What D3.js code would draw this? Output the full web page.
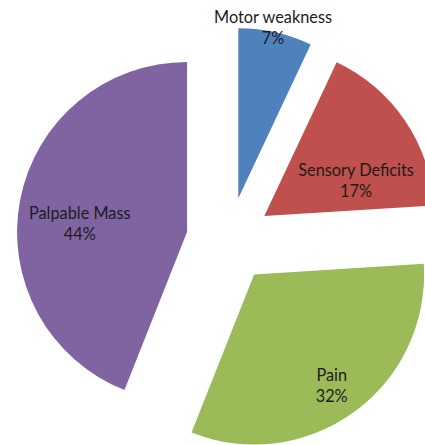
<!DOCTYPE html>
<html>
<head>
<meta charset="utf-8">
<script src="https://cdn.jsdelivr.net/npm/d3@7"></script>
<style>
  html, body { margin: 0; padding: 0; background: #ffffff; }
  svg { display: block; }
</style>
</head>
<body>
<svg id="chart" width="425" height="445"></svg>
<script>
// ---- data ----
const categories = ["Motor weakness", "Sensory Deficits", "Pain", "Palpable Mass"];
const values = [7, 17, 32, 44];
const percentLabels = ["7%", "17%", "32%", "44%"];
const colors = ["#4F81BD", "#C0504D", "#9BBB59", "#8064A2"];

// ---- layout ----
const W = 425, H = 445;
const cx = 229, cy = 240;       // pie centre before explosion
const radius = 170;
const explode = 42.7;           // explosion distance along bisector
// label position relative to each exploded slice apex: [angle deg, distance]
const labelPos = [[11.9, 168.5], [72.3, 96.3], [146.5, 140.6], [271.1, 107.3]];

const svg = d3.select("#chart");
const pie = d3.pie().sort(null).value(d => d)(values);
const arc = d3.arc().innerRadius(0).outerRadius(radius);

const g = svg.append("g").attr("transform", `translate(${cx},${cy})`);

const slices = g.selectAll("g.slice").data(pie).enter().append("g")
  .attr("class", "slice")
  .attr("transform", d => {
    const mid = (d.startAngle + d.endAngle) / 2;
    return `translate(${explode * Math.sin(mid)},${-explode * Math.cos(mid)})`;
  });

slices.append("path")
  .attr("d", arc)
  .attr("fill", (d, i) => colors[i]);

// font size fitted so label widths match the reference
const fontFamily = "Lato, 'Open Sans', sans-serif";
const probe = svg.append("text").attr("font-family", fontFamily).attr("font-size", 16).text(categories[0]);
const fs = 16 * 118 / probe.node().getComputedTextLength();
probe.remove();
const lineGap = 21;

const labels = slices.append("text")
  .attr("font-family", fontFamily)
  .attr("font-size", fs)
  .attr("fill", "#1c1c1c")
  .attr("text-anchor", "middle")
  .attr("transform", (d, i) => {
    const a = labelPos[i][0] * Math.PI / 180, r = labelPos[i][1];
    return `translate(${r * Math.sin(a)},${-r * Math.cos(a)})`;
  });
labels.append("tspan").attr("x", 0).attr("y", -lineGap / 2).text((d, i) => categories[i]);
labels.append("tspan").attr("x", 0).attr("y", lineGap / 2).text((d, i) => percentLabels[i]);
</script>
</body>
</html>
